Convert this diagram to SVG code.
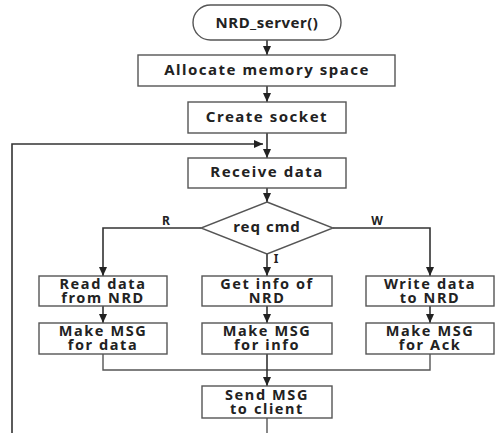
<svg xmlns="http://www.w3.org/2000/svg" width="495" height="433" viewBox="0 0 495 433">
<defs>
<marker id="ah" markerUnits="userSpaceOnUse" markerWidth="9" markerHeight="8" refX="9" refY="4" orient="auto">
<path d="M0,0 L9,4 L0,8 z" fill="#222"/>
</marker>
<style>
.box{fill:#fff;stroke:#555;stroke-width:1.4}
.t{font-family:"Noto Sans","DejaVu Sans",sans-serif;font-weight:bold;font-size:15px;letter-spacing:1.5px;fill:#222;text-anchor:middle}
.t2{font-family:"Noto Sans","DejaVu Sans",sans-serif;font-weight:bold;font-size:14.5px;letter-spacing:1.6px;fill:#222;text-anchor:middle}
.lbl{font-family:"Noto Sans","DejaVu Sans",sans-serif;font-weight:bold;font-size:12px;fill:#222;text-anchor:middle}
.c{fill:none;stroke:#555;stroke-width:1.4}
.a{fill:none;stroke:#333;stroke-width:1.6;marker-end:url(#ah)}
</style>
</defs>
<rect width="495" height="433" fill="#fff"/>
<g id="connectors">
<line class="a" x1="267" y1="40" x2="267" y2="55"/>
<line class="a" x1="267" y1="86" x2="267" y2="102"/>
<line class="a" x1="267" y1="133" x2="267" y2="158"/>
<polyline class="a" points="12,433 12,144 263,144"/>
<line class="a" x1="267" y1="188" x2="267" y2="202"/>
<polyline class="a" points="201,228 103,228 103,276"/>
<line class="a" x1="267" y1="254" x2="267" y2="276"/>
<polyline class="a" points="333,228 430,228 430,276"/>
<line class="a" x1="103" y1="306" x2="103" y2="323"/>
<line class="a" x1="267" y1="306" x2="267" y2="323"/>
<line class="a" x1="430" y1="306" x2="430" y2="323"/>
<polyline class="c" points="103,354 103,370 430,370 430,354"/>
<line class="a" x1="267" y1="354" x2="267" y2="386"/>
<line class="c" x1="267" y1="418" x2="267" y2="433"/>
<text class="lbl" x="166" y="225">R</text>
<text class="lbl" x="377" y="225">W</text>
<text class="lbl" x="276" y="263">I</text>
</g>
<g id="start">
<rect class="box" x="193" y="5" width="148" height="35" rx="17.5"/>
<text class="t" x="267" y="28" style="letter-spacing:0.5px">NRD_server()</text>
</g>
<g id="alloc">
<rect class="box" x="138" y="55" width="257" height="31"/>
<text class="t" x="267" y="75">Allocate memory space</text>
</g>
<g id="socket">
<rect class="box" x="188" y="102" width="158" height="31"/>
<text class="t" x="267" y="122">Create socket</text>
</g>
<g id="receive">
<rect class="box" x="188" y="158" width="158" height="30"/>
<text class="t" x="267" y="177">Receive data</text>
</g>
<g id="reqcmd">
<polygon class="box" points="267,202 333,228 267,254 201,228"/>
<text class="t" x="267" y="232" style="letter-spacing:1px">req cmd</text>
</g>
<g id="read">
<rect class="box" x="39" y="276" width="128" height="30"/>
<text class="t2" x="103" y="288.5">Read data</text>
<text class="t2" x="103" y="303">from NRD</text>
</g>
<g id="getinfo">
<rect class="box" x="202" y="276" width="130" height="30"/>
<text class="t2" x="267" y="288.5">Get info of</text>
<text class="t2" x="267" y="303">NRD</text>
</g>
<g id="write">
<rect class="box" x="366" y="276" width="128" height="30"/>
<text class="t2" x="430" y="288.5">Write data</text>
<text class="t2" x="430" y="303">to NRD</text>
</g>
<g id="msgdata">
<rect class="box" x="39" y="323" width="128" height="31"/>
<text class="t2" x="103" y="335.5">Make MSG</text>
<text class="t2" x="103" y="350">for data</text>
</g>
<g id="msginfo">
<rect class="box" x="202" y="323" width="130" height="31"/>
<text class="t2" x="267" y="335.5">Make MSG</text>
<text class="t2" x="267" y="350">for info</text>
</g>
<g id="msgack">
<rect class="box" x="366" y="323" width="128" height="31"/>
<text class="t2" x="430" y="335.5">Make MSG</text>
<text class="t2" x="430" y="350">for Ack</text>
</g>
<g id="send">
<rect class="box" x="202" y="386" width="130" height="32"/>
<text class="t2" x="267" y="399.5">Send MSG</text>
<text class="t2" x="267" y="414">to client</text>
</g>
</svg>
